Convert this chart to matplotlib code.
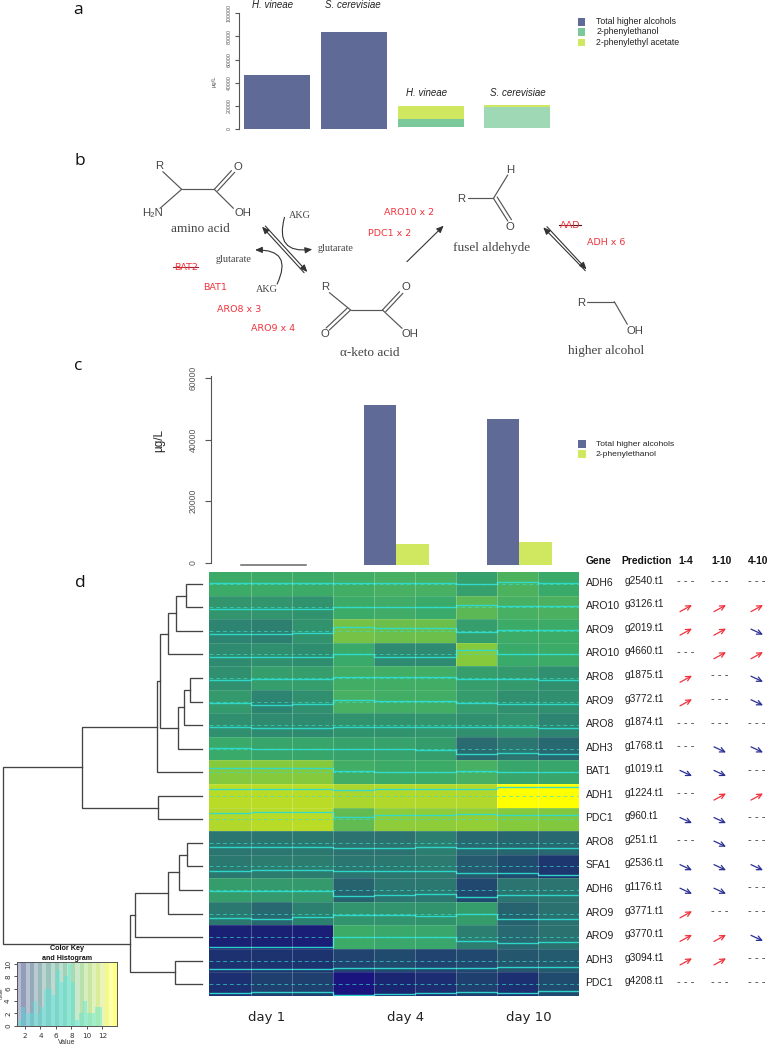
import numpy as np
import matplotlib
matplotlib.use('Agg')
import matplotlib.pyplot as plt
from matplotlib.colors import LinearSegmentedColormap, to_rgb
from matplotlib.patches import Rectangle, FancyArrowPatch

W, H = 769, 1049

# panel a
a_values_total = [47000, 84000]
a_species = ['H. vineae', 'S. cerevisiae']
a_base = [2000, 1000]
a_phenylethanol = [9000, 19000]
a_acetate = [19500, 20500]

# panel c
c_total = [0, 51200, 46700]
c_phenylethanol = [0, 6000, 6800]
days = ['day 1', 'day 4', 'day 10']

# panel d
genes = ['ADH6', 'ARO10', 'ARO9', 'ARO10', 'ARO8', 'ARO9', 'ARO8', 'ADH3', 'BAT1',
         'ADH1', 'PDC1', 'ARO8', 'SFA1', 'ADH6', 'ARO9', 'ARO9', 'ADH3', 'PDC1']
predictions = ['g2540.t1', 'g3126.t1', 'g2019.t1', 'g4660.t1', 'g1875.t1', 'g3772.t1',
               'g1874.t1', 'g1768.t1', 'g1019.t1', 'g1224.t1', 'g960.t1', 'g251.t1',
               'g2536.t1', 'g1176.t1', 'g3771.t1', 'g3770.t1', 'g3094.t1', 'g4208.t1']
trend_1_4 = list('-uu-uu--d-d-dduuu-')
trend_1_10 = list('-uuu---ddudddd-uu-')
trend_4_10 = list('-ududd-d-u--d--d--')
heat = [
    [7.6, 7.6, 7.6, 7.8, 8.0, 8.0, 6.9, 8.2, 7.5],
    [6.2, 6.2, 6.0, 7.6, 7.7, 7.5, 8.8, 8.0, 8.1],
    [5.2, 5.0, 6.0, 9.6, 9.4, 9.4, 6.8, 7.6, 7.6],
    [5.6, 5.8, 5.7, 7.5, 5.5, 5.5, 10.0, 7.5, 7.6],
    [5.8, 6.8, 6.8, 7.8, 7.8, 7.8, 6.8, 6.4, 5.8],
    [6.4, 5.2, 5.8, 8.0, 7.8, 7.8, 6.6, 5.8, 5.8],
    [5.8, 5.6, 5.6, 6.0, 6.0, 6.2, 5.8, 6.1, 5.2],
    [7.5, 7.2, 7.2, 7.0, 7.0, 6.7, 3.9, 4.4, 3.8],
    [10.0, 10.0, 10.0, 7.8, 7.6, 7.6, 8.0, 7.2, 7.2],
    [11.9, 11.9, 11.9, 11.3, 11.5, 11.5, 11.5, 13.2, 13.2],
    [11.5, 11.8, 11.9, 9.0, 10.3, 10.3, 10.5, 10.0, 9.9],
    [4.4, 4.4, 4.5, 4.2, 4.2, 4.8, 3.8, 3.7, 3.8],
    [4.5, 4.7, 4.7, 4.4, 4.5, 4.6, 3.3, 2.8, 1.9],
    [6.7, 6.4, 6.5, 3.6, 4.4, 4.5, 2.7, 4.3, 4.3],
    [4.5, 3.8, 4.9, 6.1, 6.1, 6.0, 6.7, 3.6, 4.1],
    [0.9, 0.9, 0.8, 7.6, 7.4, 7.3, 4.8, 3.8, 4.1],
    [1.7, 1.8, 1.8, 2.5, 2.8, 2.5, 2.7, 3.2, 3.4],
    [1.6, 2.3, 2.3, 0.3, 1.2, 1.5, 2.3, 1.6, 2.8],
]
# dendrogram: (merge position, left, right), leaves are row numbers
tree = (3.3,
        (81.7,
         (157, (160,
                (168.3, (175.7, (185.7, 0, 1), 2), 3),
                (178, (184.3, (189.7, 4, 5), 6), 7)), 8),
         (157.7, 9, 10)),
        (130,
         (135.3, (168.3, (179.3, (186.7, 11, 12), 13), 14), 15),
         (175.3, 16, 17)))
# colour key histogram, bins of 0.5 starting at 1
hist_counts = [1, 3, 2, 2, 4, 2, 3, 6, 6, 5, 9, 7, 8, 10, 7, 1, 2, 4, 2, 2, 3, 3,
               0, 0, 0, 0, 0, 1]

BLUE = '#5f6b96'
GREEN = '#7bc99a'
PALE = '#9fd8b4'
LIME = '#cfe860'
RED = '#f0323c'
NAVY = '#2a2f95'
GREY = '#555555'
SANS = 'Liberation Sans'
SERIF = 'Liberation Serif'

cmap = LinearSegmentedColormap.from_list('heat', [
    (0 / 13.2, '#1a0f82'), (1 / 13.2, '#1a2272'), (3 / 13.2, '#22506e'),
    (4 / 13.2, '#2a6f70'), (5.5 / 13.2, '#2e8a70'), (7.5 / 13.2, '#3aaa6a'),
    (9.5 / 13.2, '#6fc04a'), (10 / 13.2, '#85c93c'), (12 / 13.2, '#bedd25'),
    (12.9 / 13.2, '#ffff00'), (1, '#ffff00')])

fig = plt.figure(figsize=(W / 100, H / 100), dpi=100)


def axpx(left, top, right, bottom):
    return fig.add_axes([left / W, 1 - bottom / H, (right - left) / W, (bottom - top) / H])


over = axpx(0, 0, W, H)
over.set_xlim(0, W)
over.set_ylim(H, 0)
over.axis('off')
over.set_zorder(5)


def label(x, y, s, size=8, family=SANS, color='#222222', ha='center', va='center', **kw):
    over.text(x, y, s, fontsize=size, family=family, color=color, ha=ha, va=va, **kw)


def style_axis(ax, size, length=3, pad=2):
    for side in ['top', 'right', 'bottom']:
        ax.spines[side].set_visible(False)
    ax.spines['left'].set_color(GREY)
    ax.set_xticks([])
    ax.tick_params(axis='y', labelsize=size, labelrotation=90, colors=GREY, length=length, width=.8, pad=pad)
    for t in ax.get_yticklabels():
        t.set_va('center')
        t.set_family(SANS)
    ax.patch.set_alpha(0)


# panel letters
for s, x, y in [('a', 78, 14), ('b', 80, 165), ('c', 78, 370), ('d', 80, 587)]:
    label(x, y, s, size=12.5, family='Open Sans', color='#111111', va='baseline')

# panel a
ax = axpx(238.8, 13.3, 560, 129)
ax.bar([0, 1], a_values_total, width=.86, color=BLUE)
ax.bar(2, a_phenylethanol[0] - a_base[0], bottom=a_base[0], width=.86, color=GREEN)
ax.bar(2, a_acetate[0] - a_phenylethanol[0], bottom=a_phenylethanol[0], width=.86, color=LIME)
ax.bar(3.12, a_phenylethanol[1] - a_base[1], bottom=a_base[1], width=.86, color=PALE)
ax.bar(3.12, a_acetate[1] - a_phenylethanol[1], bottom=a_phenylethanol[1], width=.86, color=LIME)
ax.set_xlim(-.493, 3.68)
ax.set_ylim(0, 100000)
ax.set_yticks([0, 20000, 40000, 60000, 80000, 100000])
style_axis(ax, 3.8)
label(214, 81, 'µg/L', size=4.2, rotation=90, color=GREY)
for s, x, y in [(a_species[0], 272, 5), (a_species[1], 353, 5),
                (a_species[0], 427, 93), (a_species[1], 518, 93)]:
    label(x, y, s, size=7, style='italic')
for s, c, y in [('Total higher alcohols', BLUE, 21.7), ('2-phenylethanol', GREEN, 32),
                ('2-phenylethyl acetate', LIME, 42.7)]:
    over.add_patch(Rectangle((577.6, y - 3.8), 7, 7.6, color=c, lw=0))
    label(596.5, y, s, size=6.3, ha='left')


# panel b, positions are read from a 2.45 x 3 enlargement
def zb(x, y):
    return 60 + x / 2.45, 140 + y / 3


bonds = [
    ((252, 95), (298, 148)), ((298, 148), (378, 148)), ((378, 148), (420, 92)), ((386, 153), (428, 97)),
    ((378, 148), (425, 205)), ((298, 148), (245, 205)),
    ((1000, 175), (1062, 175)), ((1062, 175), (1097, 105)), ((1062, 175), (1097, 243)), ((1071, 171), (1106, 239)),
    ((660, 458), (712, 510)), ((712, 510), (790, 510)), ((712, 510), (660, 570)), ((704, 504), (652, 564)),
    ((790, 510), (832, 455)), ((798, 515), (840, 460)), ((790, 510), (838, 565)),
    ((1292, 485), (1358, 485)), ((1358, 485), (1390, 553)),
]
for p, q in bonds:
    (x0, y0), (x1, y1) = zb(*p), zb(*q)
    over.plot([x0, x1], [y0, y1], color='#555555', lw=.85, solid_capstyle='round')


def arrow(p, q, color='#333333', rad=0.0, lw=.8, style='-|>,head_length=2.8,head_width=1.2'):
    over.add_patch(FancyArrowPatch(zb(*p), zb(*q), arrowstyle=style, color=color, lw=lw,
                                   connectionstyle=f'arc3,rad={rad}', shrinkA=0, shrinkB=0, mutation_scale=1.5))


arrow((850, 365), (940, 257))
arrow((503, 258), (606, 396))
arrow((598, 398), (495, 260))
arrow((1287, 392), (1184, 262))
arrow((1193, 260), (1290, 388))
arrow((550, 232), (618, 328), rad=.75)
arrow((532, 432), (478, 330), rad=.8)

for s, x, y in [('R', 242, 78), ('O', 437, 80), ('OH', 447, 220), ('H₂N', 226, 220),
                ('R', 983, 177), ('H', 1103, 90), ('O', 1103, 262),
                ('R', 650, 440), ('O', 650, 582), ('O', 847, 441), ('OH', 857, 582),
                ('R', 1277, 488), ('OH', 1408, 573)]:
    label(*zb(x, y), s, size=8.2, color='#444444')
for s, x, y in [('amino acid', 343, 268), ('fusel aldehyde', 1058, 323),
                ('α-keto acid', 758, 640), ('higher alcohol', 1338, 632)]:
    label(*zb(x, y), s, size=9.5, family=SERIF, color='#444444')
for s, x, y in [('AKG', 588, 226), ('AKG', 507, 450), ('glutarate', 675, 325), ('glutarate', 426, 360)]:
    label(*zb(x, y), s, size=7.3, family=SERIF, color='#444444')
for s, x, y in [('BAT2', 308, 381), ('BAT1', 380, 441), ('ARO8 x 3', 438, 510), ('ARO9 x 4', 522, 565),
                ('ARO10 x 2', 856, 218), ('PDC1 x 2', 807, 279), ('AAD', 1250, 255), ('ADH x 6', 1339, 308)]:
    label(*zb(x, y), s, size=6.8, family='DejaVu Sans', color=RED)
for x0, x1, y, c in [(278, 337, 381, '#a02030'), (1223, 1277, 255, '#501018')]:
    over.plot([zb(x0, y)[0], zb(x1, y)[0]], [zb(x0, y)[1]] * 2, color=c, lw=.8)

# panel c
ax = axpx(211.4, 376, 560, 565.8)
centers = np.array([0, 1, 2])
bw = .263
bottom = -800
ax.bar(centers[1:] - bw / 2, np.array(c_total[1:]) - bottom, bottom=bottom, width=bw, color=BLUE)
ax.bar(centers[1:] + bw / 2, np.array(c_phenylethanol[1:]) - bottom, bottom=bottom, width=bw, color=LIME)
ax.plot([-bw, bw], [bottom, bottom], color='#666666', lw=1.1)
ax.set_xlim((211.4 - 273.3) / 123, (560 - 273.3) / 123)
ax.set_ylim(-1000, 60700)
ax.set_yticks([0, 20000, 40000, 60000])
style_axis(ax, 6.2, length=4, pad=6)
ax.spines['left'].set_bounds(0, 60700)
label(159, 440, 'µg/L', size=8.5, rotation=90)
for s, c, y in [('Total higher alcohols', BLUE, 444), ('2-phenylethanol', LIME, 454)]:
    over.add_patch(Rectangle((577.6, y - 3.6), 8, 7.2, color=c, lw=0))
    label(596, y, s, size=6.1, ha='left')

# panel d heatmap
ax = axpx(209.5, 572, 579, 996)
data = np.array(heat)
ax.pcolormesh(np.arange(10), np.arange(19), data, cmap=cmap, vmin=0, vmax=13.2)
ax.set_xlim(0, 9)
ax.set_ylim(18, 0)
ax.axis('off')
for i in range(1, 9):
    ax.axvline(i, color='white', lw=.6, alpha=.3)
for i in range(1, 18):
    ax.axhline(i, color='white', lw=.5, alpha=.18)
for i, row in enumerate(data):
    ax.plot([0, 9], [i + .5, i + .5], color='#38e0d0', lw=.7, ls=(0, (4, 3)), alpha=.65)
    ax.stairs(i + .5 + (7.3 - row) * 0.066, np.arange(10), baseline=None, color='#2fdccf', lw=1.0, alpha=.95)

for i, s in enumerate(days):
    label([266.7, 405.7, 529][i], 1017, s, size=9.5, family='DejaVu Sans')

# table next to the heatmap
row_y = 572 + (np.arange(18) + .5) * 424 / 18
for s, x, ha in [('Gene', 586, 'left'), ('Prediction', 621.7, 'left'), ('1-4', 685.7, 'center'),
                 ('1-10', 721.7, 'center'), ('4-10', 757.7, 'center')]:
    label(x, 560.7, s, size=7.4, ha=ha, color='#111111', fontweight='bold')
for i, y in enumerate(row_y):
    label(585.5, y - 1, genes[i], size=7.5, ha='left')
    label(624.7, y - 3, predictions[i], size=7.3, ha='left')
    for x, tr in zip([686, 720, 757], [trend_1_4, trend_1_10, trend_4_10]):
        t = tr[i]
        if t == '-':
            label(x, y - 2.5, '- - -', size=8, color='#333333')
        else:
            dy = -3.3 if t == 'u' else 2.8
            over.annotate('', xy=(x + 6, y + dy + 1), xytext=(x - 6, y - dy + 1),
                          arrowprops=dict(arrowstyle='->,head_length=.35,head_width=.17',
                                          color=RED if t == 'u' else NAVY, lw=.9, shrinkA=0, shrinkB=0))


# dendrogram
def draw_node(node):
    if isinstance(node, int):
        return 201.7, row_y[node]
    x, left, right = node
    lx, ly = draw_node(left)
    rx, ry = draw_node(right)
    over.plot([lx, x, x, rx], [ly, ly, ry, ry], color='#444444', lw=.95, solid_joinstyle='miter')
    return x, (ly + ry) / 2


draw_node(tree)

# colour key
ax = axpx(17.3, 961.7, 117.3, 1025.7)
ax.set_facecolor('white')
edges = 1 + np.arange(len(hist_counts) + 1) * .5
strip = np.linspace(1, 13.9, 25)
for i in range(len(strip) - 1):
    c = np.array(to_rgb(cmap((strip[i] + .25) / 13.2)))
    shade = .68 if i % 2 == 0 else .52
    ax.axvspan(strip[i], strip[i + 1], color=c * (1 - shade) + shade * np.ones(3), lw=0)
ax.stairs(hist_counts, edges, fill=True, color='#50e8e0', alpha=.42, lw=0)
ax.set_xlim(1, 13.94)
ax.set_ylim(0, 10.37)
ax.set_xticks([2, 4, 6, 8, 10, 12])
ax.set_yticks([0, 2, 4, 6, 8, 10])
ax.tick_params(axis='x', labelsize=5.2, length=2.5, width=.6, pad=3, colors='#333333')
ax.tick_params(axis='y', labelsize=5.2, length=2.5, width=.6, pad=2, labelrotation=90, colors='#333333')
for t in ax.get_yticklabels():
    t.set_va('center')
for side in ax.spines.values():
    side.set_linewidth(.7)
    side.set_color('#555555')
label(67, 949, 'Color Key', size=5.2, fontweight='bold', color='#111111')
label(67, 958.5, 'and Histogram', size=5.1, fontweight='bold', color='#111111')
label(2, 993, 'Count', size=3.2, rotation=90)
label(67, 1043, 'Value', size=5, color='#333333')

fig.savefig('out.png', dpi=100)
